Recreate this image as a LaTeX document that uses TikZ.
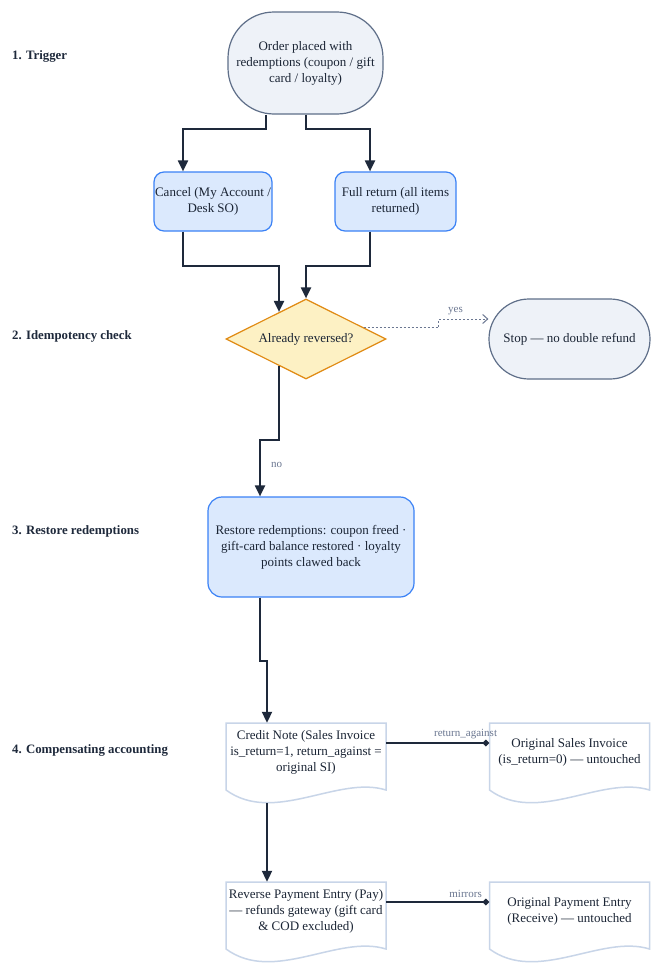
\documentclass[tikz,border=0pt]{standalone}
\usepackage{fontspec}
\setmainfont{Liberation Serif}
\usetikzlibrary{shapes.geometric,arrows.meta,calc}
\definecolor{navy}{HTML}{1E293B}
\definecolor{slateb}{HTML}{5F6F89}
\definecolor{termfill}{HTML}{EEF2F8}
\definecolor{blueb}{HTML}{3B82F6}
\definecolor{procfill}{HTML}{DBE9FD}
\definecolor{orangeb}{HTML}{E08A12}
\definecolor{decfill}{HTML}{FDF1C4}
\definecolor{docb}{HTML}{C8D5E8}
\definecolor{labgray}{HTML}{6B7791}
\begin{document}
\begin{tikzpicture}[x=1pt,y=-1pt,
  base/.style={align=center,font=\fontsize{13}{16}\selectfont,text=navy!90!black,inner sep=0pt},
  term/.style={base,draw=slateb,fill=termfill,line width=1.2pt,rounded corners=40pt},
  proc/.style={base,draw=blueb,fill=procfill,line width=1.2pt,rounded corners=10pt},
  dec/.style={base,diamond,aspect=2,draw=orangeb,fill=decfill,line width=1.2pt,minimum width=160pt,minimum height=80pt},
  doc/.style={base,minimum width=160pt,minimum height=58pt},
  docline/.style={draw=docb,fill=white,line width=1.5pt},
  flow/.style={draw=navy,line width=2pt,-{Triangle[length=11pt,width=10pt]}},
  link/.style={draw=navy,line width=1.2pt,-{Diamond[length=7pt,width=7pt]}},
  yesline/.style={draw=labgray,line width=1pt,dash pattern=on 2pt off 2pt,-{Straight Barb[length=5pt,width=9pt]}},
  elabel/.style={font=\fontsize{11}{13}\selectfont,text=labgray,inner sep=1pt},
  lane/.style={font=\bfseries\fontsize{12.8}{15}\selectfont,text=navy,anchor=west,inner sep=0pt}
]
\useasboundingbox[fill=white] (0,0) rectangle (663,977);

% lane labels
\node[lane] (l1) at (12,56) {1. Trigger};
\node[lane] (l2) at (12,336) {2. Idempotency check};
\node[lane] (l3) at (12,531) {3. Restore redemptions};
\node[lane] (l4) at (12,750) {4. Compensating accounting};

% doc outlines first (drawn beneath text)
\newcommand\docoutline[2]{%
  \draw[docline] ($(#1,#2)+(-80,-29)$) -- ($(#1,#2)+(80,-29)$) -- ($(#1,#2)+(80,38)$)
    .. controls ($(#1,#2)+(32,23)$) and ($(#1,#2)+(-32,73)$) .. ($(#1,#2)+(-80,38)$) -- cycle;}
\docoutline{306}{752}
\docoutline{569.5}{752}
\docoutline{306}{911}
\docoutline{569.5}{911}

% nodes
\node[term,rounded corners=46pt,minimum width=155pt,minimum height=102pt] (order) at (305.5,63)
  {Order placed with\\redemptions (coupon / gift\\card / loyalty)};
\node[proc,minimum width=118pt,minimum height=59pt] (cancel) at (213,201.5)
  {Cancel (My Account /\\Desk SO)};
\node[proc,minimum width=121pt,minimum height=59pt] (full) at (395.5,201.5)
  {Full return (all items\\returned)};
\node[dec] (dia) at (306,339) {Already reversed?};
\node[term,minimum width=161pt,minimum height=80pt] (stop) at (569.5,339)
  {Stop — no double refund};
\node[proc,rounded corners=14pt,minimum width=206pt,minimum height=100pt] (restore) at (311,547)
  {Restore redemptions: coupon freed ·\\gift-card balance restored · loyalty\\points clawed back};
\node[doc] (cn) at (306,752)
  {Credit Note (Sales Invoice\\is\_return=1, return\_against =\\original SI)};
\node[doc] (osi) at (569.5,752)
  {Original Sales Invoice\\(is\_return=0) — untouched};
\node[doc] (rpe) at (306,911)
  {Reverse Payment Entry (Pay)\\— refunds gateway (gift card\\\& COD excluded)};
\node[doc] (ope) at (569.5,911)
  {Original Payment Entry\\(Receive) — untouched};

% connectors
\draw[flow] ([xshift=-39.5pt]order.south) -- ++(0,14) -| ([xshift=-30pt]cancel.north);
\draw[flow] (order.south) -- ++(0,14) -| ([xshift=-25.5pt]full.north);
\draw[flow] ([xshift=-30pt]cancel.south) -- ++(0,34) -| ($(dia.north)+(-27,13.5)$);
\draw[flow] ([xshift=-25.5pt]full.south) -- ++(0,34) -| (dia.north);
\draw[yesline] ($(dia.east)+(-23,-11.5)$) -- ++(75,0) |- ([yshift=20pt]stop.west)
  node[elabel,pos=0.67,above=3pt] {yes};
\draw[flow] ($(dia.south)+(-27,-13.5)$) -- ++(0,73.5) -| ([xshift=-51pt]restore.north)
  node[elabel,pos=0.72,right=9pt] {no};
\draw[flow] ([xshift=-51pt]restore.south) -- ++(0,63) -| ([xshift=-39pt]cn.north);
\draw[flow] ($(cn.south)+(-39,22)$) -- ([xshift=-39pt]rpe.north);
\draw[link] ([yshift=9pt]cn.east) -- ([yshift=9pt]osi.west)
  node[elabel,pos=0.77,above=3pt] {return\_against};
\draw[link] ([yshift=9pt]rpe.east) -- ([yshift=9pt]ope.west)
  node[elabel,pos=0.77,above=3pt] {mirrors};
\end{tikzpicture}
\end{document}
